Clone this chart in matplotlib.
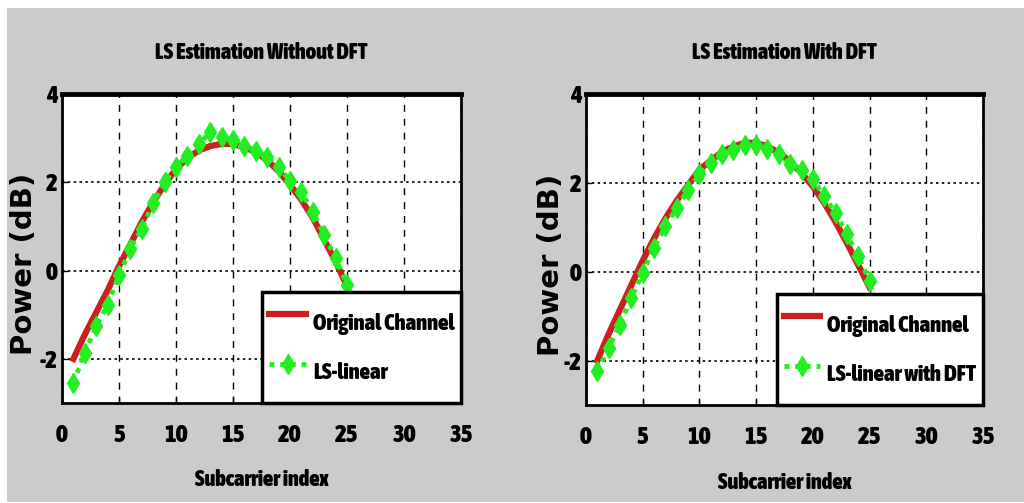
import matplotlib
matplotlib.use("Agg")
import matplotlib.pyplot as plt
import matplotlib.patheffects as pe
from matplotlib.patches import Rectangle
from matplotlib import font_manager

# data
idx = list(range(1, 26))

orig_left = [-2.0, -1.45, -0.95, -0.45, 0.1, 0.6, 1.1, 1.55, 1.95, 2.3, 2.55, 2.72, 2.82,
             2.87, 2.87, 2.8, 2.68, 2.5, 2.25, 1.95, 1.6, 1.2, 0.7, 0.2, -0.35]
ls_linear = [-2.54, -1.86, -1.26, -0.77, -0.1, 0.5, 0.95, 1.52, 2.0, 2.35, 2.6, 2.87, 3.13,
             3.02, 2.95, 2.83, 2.72, 2.57, 2.34, 2.04, 1.78, 1.33, 0.8, 0.28, -0.32]

orig_right = [-2.0, -1.4, -0.85, -0.3, 0.25, 0.75, 1.2, 1.6, 1.95, 2.3, 2.5, 2.7, 2.82,
              2.9, 2.9, 2.82, 2.68, 2.48, 2.22, 1.92, 1.55, 1.12, 0.65, 0.15, -0.35]
ls_dft = [-2.24, -1.71, -1.19, -0.59, -0.02, 0.54, 1.03, 1.44, 1.85, 2.19, 2.45, 2.64, 2.75,
          2.85, 2.85, 2.77, 2.64, 2.42, 2.3, 2.08, 1.7, 1.33, 0.84, 0.35, -0.21]

titles = ["LS Estimation Without DFT", "LS Estimation With DFT"]
est_labels = ["LS-linear", "LS-linear with DFT"]

plt.rcParams["axes.unicode_minus"] = False

# find a condensed face; prefer a bold file
fonts = font_manager.fontManager.ttflist
cond = [f for f in fonts if "Narrow" in f.name or "Condensed" in f.name]
cond_bold = [f for f in cond if f.weight in ("bold", 700, "heavy", 800, 900)]
if cond_bold:
    font_file = sorted(cond_bold, key=lambda f: f.name)[0].fname
    fake_bold = False
elif cond:
    font_file = sorted(cond, key=lambda f: f.name)[0].fname
    fake_bold = True
else:
    font_file = font_manager.findfont(font_manager.FontProperties(family="Liberation Sans", weight="bold"))
    fake_bold = False


def fp(size):
    return font_manager.FontProperties(fname=font_file, size=size)


def thick(txt, w=0.9):
    if fake_bold:
        txt.set_path_effects([pe.withStroke(linewidth=w, foreground="black")])


fig = plt.figure(figsize=(10.24, 5.03), dpi=100, facecolor="white")
bg = Rectangle((7 / 1024, 1 / 503), 1, 1 - 9 / 503, transform=fig.transFigure,
               facecolor="#cbcbcb", edgecolor="none", zorder=-10)
fig.patches.append(bg)

boxes = [[62 / 1024, 1 - 403 / 503, 399 / 1024, 309 / 503],
         [586 / 1024, 1 - 405 / 503, 397 / 1024, 311 / 503]]
ylab_x = [-0.06, -0.053]
series = [(orig_left, ls_linear), (orig_right, ls_dft)]

for i in range(2):
    ax = fig.add_axes(boxes[i])
    orig, est = series[i]
    ax.plot(idx, orig, color="#cc1f1f", lw=4.5, label="Original Channel", zorder=3)
    ax.plot(idx, est, color="#22ee22", lw=3.5, ls=(0, (1, 1.2)), marker="d", ms=10,
            markeredgecolor="#22ee22", label=est_labels[i], zorder=4)

    ax.set_xlim(0, 35)
    ax.set_ylim(-3, 4)
    ax.set_xticks(range(0, 36, 5))
    ax.set_yticks([-2, 0, 2, 4])
    ax.xaxis.grid(True, ls=(0, (5, 5)), color="black", lw=1)
    ax.yaxis.grid(True, ls=(0, (1.5, 2)), color="black", lw=1.2)
    ax.set_axisbelow(True)
    for s in ax.spines.values():
        s.set_linewidth(2)
    ax.spines["top"].set_linewidth(3.5)
    ax.tick_params(direction="in", length=4, width=1)
    ax.tick_params(axis="x", pad=15)
    ax.tick_params(axis="y", pad=3)
    for lab in ax.get_xticklabels() + ax.get_yticklabels():
        lab.set_fontproperties(fp(18))
        thick(lab, 1.2)

    t = ax.set_title(titles[i], fontproperties=fp(16), pad=25)
    thick(t)
    xl = ax.set_xlabel("Subcarrier index", fontproperties=fp(16))
    thick(xl)
    ax.xaxis.set_label_coords(0.5, -0.215)
    ax.set_ylabel("Power (dB)", fontfamily="DejaVu Sans", fontweight="bold", fontsize=21)
    ax.yaxis.set_label_coords(ylab_x[i], 0.45)

    leg = ax.legend(loc="lower right", borderaxespad=0, fancybox=False, framealpha=1,
                    edgecolor="black", handlelength=1.6, handleheight=2.8, handletextpad=0.3,
                    borderpad=0.3, labelspacing=0.1, prop=fp(16.5))
    leg.get_frame().set_linewidth(2.5)
    for txt in leg.get_texts():
        thick(txt)

fig.savefig("out.png", dpi=100, facecolor=fig.get_facecolor())
